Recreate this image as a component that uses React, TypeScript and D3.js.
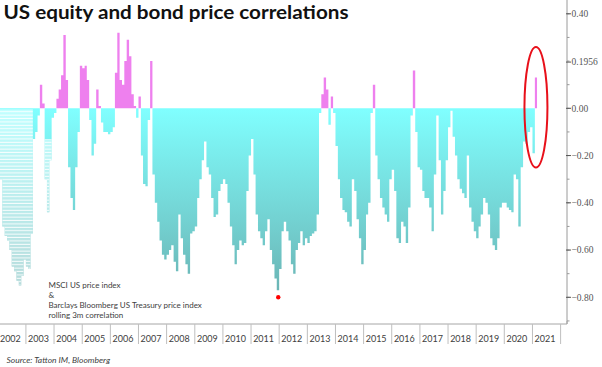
import React from 'react';
import * as d3 from 'd3';

// monthly rolling 3m correlation (Jan..Dec)
const corr2002 = [-0.3, -0.3, -0.5, -0.54, -0.56, -0.6, -0.67, -0.69, -0.73, -0.75, -0.71, -0.64];
const corr2003 = [-0.67, -0.68, -0.53, -0.13, -0.1, -0.03, 0.1, 0.02, -0.3, -0.44, -0.22, -0.04];
const corr2004 = [-0.02, 0.04, 0.08, 0.14, 0.31, 0.12, -0.25, -0.38, -0.43, -0.25, -0.1, 0.18];
const corr2005 = [0.17, 0.18, 0.12, -0.05, -0.2, -0.15, 0.08, 0.01, -0.06, -0.1, -0.1, -0.11];
const corr2006 = [-0.1, -0.08, 0.15, 0.32, 0.12, 0.1, 0.2, 0.29, 0.22, 0.06, 0.01, -0.04];
const corr2007 = [0.05, -0.2, -0.32, -0.33, -0.05, 0.2, -0.28, -0.4, -0.48, -0.56, -0.62, -0.64];
const corr2008 = [-0.62, -0.6, -0.58, -0.65, -0.69, -0.45, -0.55, -0.62, -0.66, -0.7, -0.53, -0.52];
const corr2009 = [-0.5, -0.38, -0.3, -0.22, -0.14, -0.25, -0.28, -0.38, -0.46, -0.45, -0.35, -0.32];
const corr2010 = [-0.3, -0.32, -0.4, -0.5, -0.58, -0.66, -0.6, -0.56, -0.58, -0.57, -0.35, -0.2];
const corr2011 = [-0.13, -0.28, -0.45, -0.52, -0.55, -0.58, -0.52, -0.47, -0.6, -0.66, -0.72, -0.77];
const corr2012 = [-0.68, -0.52, -0.48, -0.52, -0.56, -0.66, -0.7, -0.6, -0.57, -0.52, -0.58, -0.55];
const corr2013 = [-0.57, -0.54, -0.53, -0.52, -0.45, -0.02, 0.06, 0.13, 0.08, -0.07, 0.05, -0.02];
const corr2014 = [-0.16, -0.3, -0.38, -0.43, -0.44, -0.48, -0.5, -0.3, -0.35, -0.47, -0.55, -0.66];
const corr2015 = [-0.6, -0.45, -0.4, -0.02, 0.1, -0.2, -0.3, -0.38, -0.42, -0.45, -0.48, -0.3];
const corr2016 = [-0.26, -0.35, -0.55, -0.57, -0.48, -0.5, -0.57, -0.42, -0.03, 0.16, -0.1, -0.25];
const corr2017 = [-0.26, -0.35, -0.38, -0.38, -0.42, -0.52, -0.28, -0.03, -0.22, -0.45, -0.35, -0.22];
const corr2018 = [-0.08, -0.01, -0.12, -0.2, -0.3, -0.34, -0.36, -0.38, -0.2, -0.42, -0.48, -0.52];
const corr2019 = [-0.55, -0.5, -0.45, -0.38, -0.4, -0.45, -0.55, -0.58, -0.6, -0.55, -0.42, -0.4];
const corr2020 = [-0.4, -0.42, -0.43, -0.44, -0.28, -0.3, -0.5, -0.25, -0.14, -0.15, -0.1, -0.08];
const corr2021 = [-0.19, 0.13];

const monthly = [
  corr2002, corr2003, corr2004, corr2005, corr2006, corr2007, corr2008,
  corr2009, corr2010, corr2011, corr2012, corr2013, corr2014, corr2015,
  corr2016, corr2017, corr2018, corr2019, corr2020, corr2021,
].flat();

const yearLabels = d3.range(2002, 2022).map(String);
const yTicks = d3.range(-9, 5).map((d) => d / 10);
const yLabels = [-0.8, -0.6, -0.4, -0.2, 0, 0.1956, 0.4];
const legendLines = [
  'MSCI US price index',
  '&',
  'Barclays Bloomberg US Treasury price index',
  'rolling 3m correlation',
];
const lowPoint = { date: new Date(2011, 11, 20), value: -0.8 };

const W = 602;
const H = 367;
const axisX = 567;
const baseY = 324;

const x = d3.scaleTime().domain([new Date(2002, 0, 1), new Date(2022, 0, 1)]).range([-2.2, 560.6]);
const y = d3.scaleLinear().domain([-0.8, 0.4]).range([297.3, 13.8]);

const App = () => {
  const y0 = y(0);
  // step points; the extra last point closes the final month
  const pts = monthly.map((v, i) => ({ d: new Date(2002, i, 1), v }));
  pts.push({ d: new Date(2002, monthly.length, 1), v: monthly[monthly.length - 1] });

  const negArea = d3
    .area()
    .curve(d3.curveStepAfter)
    .x((p) => x(p.d))
    .y0(y0)
    .y1((p) => y(Math.min(p.v, 0)));
  const posArea = d3
    .area()
    .curve(d3.curveStepAfter)
    .x((p) => x(p.d))
    .y0(y0)
    .y1((p) => y(Math.max(p.v, 0)));

  const fmt = (v) => (v === 0.1956 ? '0.1956' : d3.format('.2f')(v));
  const lastBar = new Date(2021, 1, 15);
  const paleEnd = x(new Date(2003, 3, 1));

  return (
    <svg width={W} height={H} style={{ position: 'absolute', left: 0, top: 0, background: '#fff' }}>
      <defs>
        <linearGradient id="cyan" gradientUnits="userSpaceOnUse" x1="0" x2="0" y1={y0} y2={y(-0.8)}>
          <stop offset="0%" stopColor="#80FFFF" />
          <stop offset="100%" stopColor="#6AB2B2" />
        </linearGradient>
        <pattern id="stripes" patternUnits="userSpaceOnUse" width="6" height="3.4">
          <rect width="6" height="3.4" fill="#fff" fillOpacity="0.5" />
          <rect y="2.4" width="6" height="1" fill="#fff" fillOpacity="0.9" />
        </pattern>
        <clipPath id="plot">
          <rect x="0" y="0" width={axisX} height={baseY} />
        </clipPath>
        <clipPath id="pale">
          <rect x="0" y={y0 + 1} width={paleEnd} height={baseY - y0} />
          <rect x={paleEnd} y={y(-0.13)} width={x(new Date(2004, 0, 1)) - paleEnd} height={baseY - y(-0.13)} />
        </clipPath>
      </defs>

      <g clipPath="url(#plot)">
        <path d={negArea(pts)} fill="url(#cyan)" />
        <path d={posArea(pts)} fill="#EE80EE" />
        <g clipPath="url(#pale)">
          <path d={negArea(pts)} fill="url(#stripes)" />
        </g>
      </g>

      {/* right axis */}
      <line x1={axisX} x2={axisX} y1={0} y2={baseY} stroke="#9A9A9A" />
      {yTicks.map((t) => (
        <line key={t} x1={axisX} x2={axisX + 2.5} y1={y(t)} y2={y(t)} stroke="#9A9A9A" />
      ))}
      {yLabels.map((t) => (
        <g key={t}>
          <line x1={axisX - 1} x2={axisX + 4} y1={y(t)} y2={y(t)} stroke="#555" />
          <text x={axisX + 4.5} y={y(t) + 3.3} fontSize="9.5" fontFamily="Liberation Serif, serif" fill="#555">
            {fmt(t)}
          </text>
        </g>
      ))}

      {/* category axis */}
      <line x1={0} x2={axisX} y1={baseY} y2={baseY} stroke="#A6A6A6" />
      <line x1={axisX} x2={axisX} y1={baseY - 3} y2={baseY} stroke="#A6A6A6" />
      {yearLabels.map((yr, i) => {
        const a = x(new Date(2002 + i, 0, 1));
        const b = x(new Date(2003 + i, 0, 1));
        return (
          <g key={yr}>
            <line x1={b} x2={b} y1={baseY} y2={baseY + 20} stroke="#BFBFBF" />
            <text x={(a + b) / 2 - 1.5} y={baseY + 17.5} textAnchor="middle" fontSize="9" fontFamily="Lato, sans-serif" fill="#404040">
              {yr}
            </text>
          </g>
        );
      })}

      {/* annotations */}
      <circle cx={x(lowPoint.date)} cy={y(lowPoint.value)} r={2.2} fill="#FF0000" />
      <ellipse cx={x(lastBar)} cy={y0 - 1} rx={11.5} ry={y0 - y(0.255)} fill="none" stroke="#E8101A" strokeWidth={2} />

      {legendLines.map((l, i) => (
        <text key={i} x={48.5} y={287.5 + i * 10.3} fontSize="8" fontFamily="Lato, sans-serif" fill="#404040">
          {l}
        </text>
      ))}

      <text x={3.5} y={18.5} fontSize="19" fontWeight="bold" fontFamily="Lato, sans-serif" fill="#111" textLength={345} lengthAdjust="spacingAndGlyphs">
        US equity and bond price correlations
      </text>
      <text x={6.5} y={362.5} fontSize="8.5" fontStyle="italic" fontFamily="Lato, sans-serif" fill="#404040">
        Source: Tatton IM, Bloomberg
      </text>
    </svg>
  );
};

export default App;
